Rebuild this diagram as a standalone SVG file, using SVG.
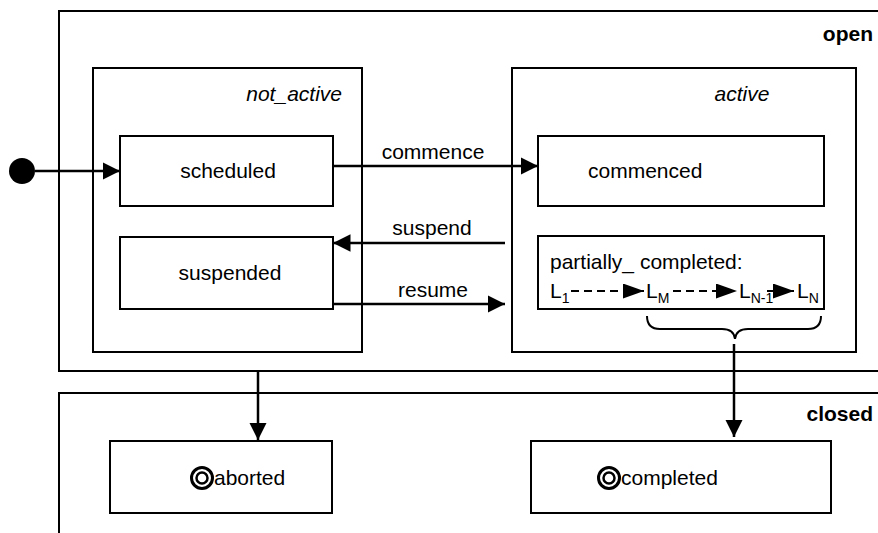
<svg xmlns="http://www.w3.org/2000/svg" width="878" height="533" viewBox="0 0 878 533">
  <style>
    .box { fill: none; stroke: #000; stroke-width: 2; }
    .wire { fill: none; stroke: #000; stroke-width: 2.5; }
    .dash { fill: none; stroke: #000; stroke-width: 2; stroke-dasharray: 8 5; }
    text { font-family: "Liberation Sans", Arial, sans-serif; font-size: 21px; fill: #000; }
    .bold { font-weight: bold; }
    .ital { font-style: italic; }
    .mid { text-anchor: middle; }
    .end { text-anchor: end; }
    .sub { font-size: 14px; }
  </style>
  <defs>
    <marker id="arrow" viewBox="0 0 10 10" refX="10" refY="5" markerWidth="7" markerHeight="7" markerUnits="strokeWidth" orient="auto">
      <path d="M0,0 L10,5 L0,10 Z" fill="#000"/>
    </marker>
    <marker id="arrowL" viewBox="0 0 14 10" refX="14" refY="5" markerWidth="10.5" markerHeight="7.5" markerUnits="strokeWidth" orient="auto">
      <path d="M0,0 L14,5 L0,10 Z" fill="#000"/>
    </marker>
  </defs>

  <!-- composite regions -->
  <g id="open">
    <rect class="box" x="59" y="11" width="830" height="360"/>
    <text class="bold end" x="873" y="41">open</text>
  </g>
  <g id="closed">
    <rect class="box" x="59" y="393" width="830" height="160"/>
    <text class="bold end" x="873" y="421">closed</text>
  </g>
  <g id="not_active">
    <rect class="box" x="93" y="68" width="269" height="284"/>
    <text class="ital end" x="342" y="101">not_active</text>
  </g>
  <g id="active">
    <rect class="box" x="512" y="68" width="344" height="284"/>
    <text class="ital mid" x="742" y="101">active</text>
  </g>

  <!-- states -->
  <g id="initial">
    <circle cx="22" cy="171" r="13" fill="#000"/>
  </g>
  <g id="scheduled">
    <rect class="box" x="120" y="136" width="213" height="70"/>
    <text class="mid" x="228" y="178">scheduled</text>
  </g>
  <g id="suspended">
    <rect class="box" x="120" y="237" width="213" height="72"/>
    <text class="mid" x="230" y="280">suspended</text>
  </g>
  <g id="commenced">
    <rect class="box" x="538" y="136" width="286" height="70"/>
    <text x="588" y="178">commenced</text>
  </g>
  <g id="partially_completed">
    <rect class="box" x="538" y="236" width="286" height="73"/>
    <text x="550" y="269">partially_ completed:</text>
    <text x="550" y="298">L<tspan class="sub" dy="5">1</tspan></text>
    <text x="646" y="298">L<tspan class="sub" dy="5">M</tspan></text>
    <text x="739" y="298">L<tspan class="sub" dy="5">N-1</tspan></text>
    <text x="797" y="298">L<tspan class="sub" dy="5">N</tspan></text>
    <!-- sequence of sub-steps inside the partially completed state -->
    <path class="dash" d="M571,291 H644" marker-end="url(#arrowL)"/>
    <path class="dash" d="M673,291 H737" marker-end="url(#arrowL)"/>
    <path class="box" d="M767,291 H794" marker-end="url(#arrowL)"/>
    <!-- brace grouping L_M .. L_N -->
    <path fill="none" stroke="#000" stroke-width="2" d="M647,316 Q647,329 660,329 H722 Q734,329 735,339 Q736,329 748,329 H808 Q821,329 821,316"/>
  </g>
  <g id="aborted">
    <rect class="box" x="110" y="441" width="222" height="72"/>
    <circle cx="202" cy="478" r="10.5" fill="none" stroke="#000" stroke-width="3"/>
    <circle cx="202" cy="478" r="5.5" fill="none" stroke="#000" stroke-width="2.5"/>
    <text x="214" y="485">aborted</text>
  </g>
  <g id="completed">
    <rect class="box" x="531" y="441" width="300" height="72"/>
    <circle cx="609" cy="478" r="10.5" fill="none" stroke="#000" stroke-width="3"/>
    <circle cx="609" cy="478" r="5.5" fill="none" stroke="#000" stroke-width="2.5"/>
    <text x="621" y="485">completed</text>
  </g>

  <!-- transitions -->
  <g id="connectors">
    <path class="wire" d="M35,171 H120" marker-end="url(#arrow)"/>
    <path class="wire" d="M333,166 H538" marker-end="url(#arrow)"/>
    <text class="mid" x="433" y="159">commence</text>
    <path class="wire" d="M505,243 H333" marker-end="url(#arrow)"/>
    <text class="mid" x="432" y="235">suspend</text>
    <path class="wire" d="M333,304 H505" marker-end="url(#arrow)"/>
    <text class="mid" x="433" y="297">resume</text>
    <path class="wire" d="M258,371 V440" marker-end="url(#arrow)"/>
    <path class="wire" d="M734,344 V437" marker-end="url(#arrow)"/>
  </g>
</svg>
